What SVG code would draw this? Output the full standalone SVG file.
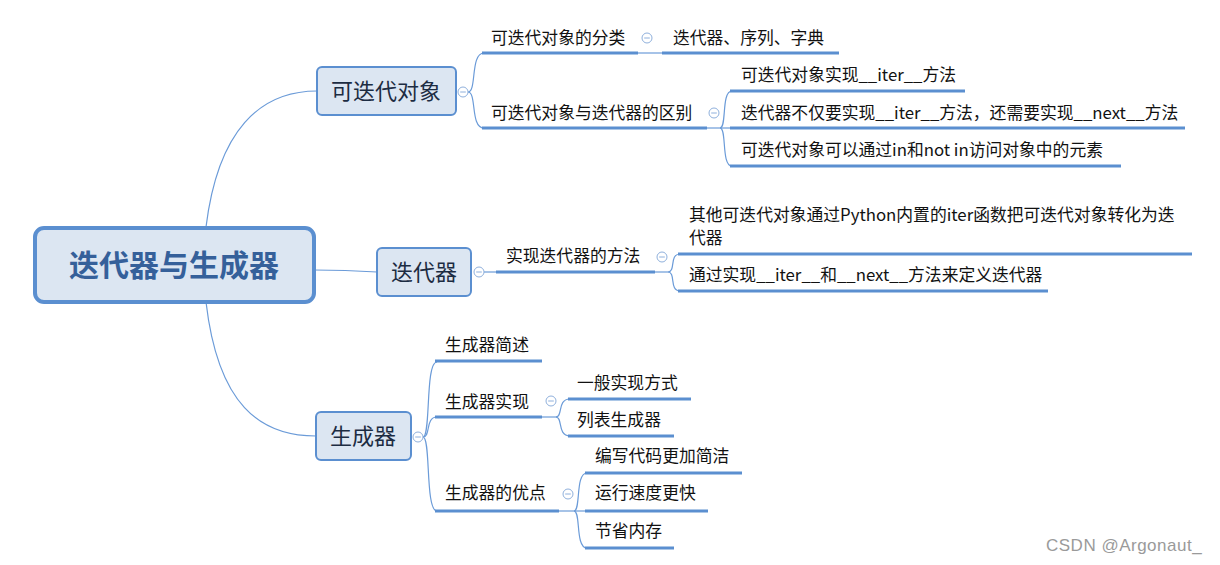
<svg xmlns="http://www.w3.org/2000/svg" width="1220" height="565" viewBox="0 0 1220 565">
<style>
text{font-family:"Noto Sans CJK SC","Noto Sans",sans-serif;}
.root{fill:#dce6f2;stroke:#5b8fd0;stroke-width:4;}
.rootT{font-size:30px;font-weight:bold;fill:#35609a;text-anchor:middle;}
.n1{fill:#dce6f2;stroke:#5b8fd0;stroke-width:2;}
.t1{font-size:22px;fill:#1c2c42;text-anchor:middle;}
.t{font-size:16.8px;fill:#111;}
.ul{stroke:#5b8fd0;stroke-width:3;fill:none;}
.c{stroke:#6b9bd8;stroke-width:1.2;fill:none;}
.tog circle{fill:#fff;stroke:#8fb0dc;stroke-width:1;}
.tog line{stroke:#8fb0dc;stroke-width:1;}
.wm{font-size:17px;letter-spacing:0.5px;fill:#9a9a9a;font-family:"Liberation Sans",sans-serif;}
</style>
<defs>
<g id="tg" class="tog"><circle r="5"/><line x1="-2.8" y1="0" x2="2.8" y2="0"/></g>
</defs>
<g id="connectors">
<path class="c" d="M206,227 C218,130 260,91 317,91"/>
<path class="c" d="M206,302 C218,405 260,436 316,436"/>
<path class="c" d="M314,270 Q345,270 377,272"/>
<path class="c" d="M468,92 C477,92 470,53 484,53"/>
<path class="c" d="M468,92 C477,92 470,128 484,128"/>
<path class="c" d="M638,53 L662,53"/>
<path class="c" d="M707,128 L730,128"/>
<path class="c" d="M720,128 C727,128 721,91 732,91"/>
<path class="c" d="M720,128 C727,128 721,166 732,166"/>
<path class="c" d="M484,272 L496,272"/>
<path class="c" d="M655,272 L668,272"/>
<path class="c" d="M668,272 C676,272 669,254 680,254"/>
<path class="c" d="M668,272 C676,272 669,291 680,291"/>
<path class="c" d="M423,437 C431,437 425,362 437,362"/>
<path class="c" d="M423,437 C431,437 425,417 437,417"/>
<path class="c" d="M423,437 C431,437 425,511 437,511"/>
<path class="c" d="M542,417 L557,417"/>
<path class="c" d="M556,417 C563,417 557,399 570,399"/>
<path class="c" d="M556,417 C563,417 557,436 570,436"/>
<path class="c" d="M559,511 L586,511"/>
<path class="c" d="M574,511 C581,511 575,473 587,473"/>
<path class="c" d="M574,511 C581,511 575,548 587,548"/>
</g>
<g id="root">
<rect class="root" x="35" y="228" width="279" height="74" rx="9"/>
<text class="rootT" x="174" y="276">迭代器与生成器</text>
</g>
<g id="n-iterable">
<rect class="n1" x="317" y="67" width="139" height="48" rx="5"/>
<text class="t1" x="386" y="99">可迭代对象</text>
<use href="#tg" x="463" y="92"/>
</g>
<g id="n-iterator">
<rect class="n1" x="377" y="248" width="94" height="48" rx="5"/>
<text class="t1" x="424" y="280">迭代器</text>
<use href="#tg" x="479" y="272"/>
</g>
<g id="n-generator">
<rect class="n1" x="316" y="412" width="95" height="48" rx="5"/>
<text class="t1" x="363" y="444">生成器</text>
<use href="#tg" x="418" y="437"/>
</g>
<g id="n-classify">
<path class="ul" d="M482,53 L638,53"/>
<text class="t" x="491" y="44">可迭代对象的分类</text>
<use href="#tg" x="647" y="38"/>
</g>
<g id="n-classify-1">
<path class="ul" d="M662,53 L839,53"/>
<text class="t" x="673" y="44">迭代器、序列、字典</text>
</g>
<g id="n-diff">
<path class="ul" d="M482,128 L707,128"/>
<text class="t" x="491" y="119">可迭代对象与迭代器的区别</text>
<use href="#tg" x="714" y="113"/>
</g>
<g id="n-diff-1">
<path class="ul" d="M730,91 L965,91"/>
<text class="t" x="741" y="81">可迭代对象实现__iter__方法</text>
</g>
<g id="n-diff-2">
<path class="ul" d="M730,128 L1185,128"/>
<text class="t" x="741" y="119">迭代器不仅要实现__iter__方法，还需要实现__next__方法</text>
</g>
<g id="n-diff-3">
<path class="ul" d="M730,166 L1121,166"/>
<text class="t" x="741" y="156">可迭代对象可以通过in和not in访问对象中的元素</text>
</g>
<g id="n-method">
<path class="ul" d="M496,272 L655,272"/>
<text class="t" x="506" y="262">实现迭代器的方法</text>
<use href="#tg" x="662" y="257"/>
</g>
<g id="n-method-1">
<path class="ul" d="M678,254 L1192,254"/>
<text class="t" x="689" y="221">其他可迭代对象通过Python内置的iter函数把可迭代对象转化为迭</text>
<text class="t" x="689" y="244">代器</text>
</g>
<g id="n-method-2">
<path class="ul" d="M678,291 L1048,291"/>
<text class="t" x="689" y="281">通过实现__iter__和__next__方法来定义迭代器</text>
</g>
<g id="n-gen-desc">
<path class="ul" d="M435,361 L542,361"/>
<text class="t" x="445" y="351">生成器简述</text>
</g>
<g id="n-gen-impl">
<path class="ul" d="M435,417 L542,417"/>
<text class="t" x="445" y="408">生成器实现</text>
<use href="#tg" x="551" y="401"/>
</g>
<g id="n-gen-impl-1">
<path class="ul" d="M568,399 L691,399"/>
<text class="t" x="577" y="389">一般实现方式</text>
</g>
<g id="n-gen-impl-2">
<path class="ul" d="M568,436 L674,436"/>
<text class="t" x="577" y="426">列表生成器</text>
</g>
<g id="n-gen-adv">
<path class="ul" d="M435,511 L559,511"/>
<text class="t" x="445" y="499">生成器的优点</text>
<use href="#tg" x="568" y="494"/>
</g>
<g id="n-gen-adv-1">
<path class="ul" d="M585,473 L742,473"/>
<text class="t" x="595" y="462">编写代码更加简洁</text>
</g>
<g id="n-gen-adv-2">
<path class="ul" d="M585,511 L708,511"/>
<text class="t" x="595" y="499">运行速度更快</text>
</g>
<g id="n-gen-adv-3">
<path class="ul" d="M585,548 L674,548"/>
<text class="t" x="595" y="537">节省内存</text>
</g>
<text class="wm" x="1046" y="551">CSDN @Argonaut_</text>
</svg>
